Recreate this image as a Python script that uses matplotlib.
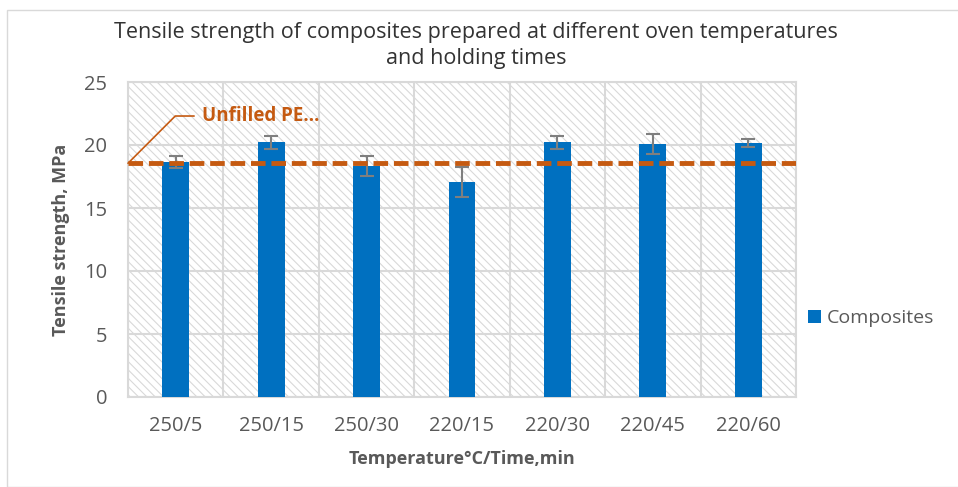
import matplotlib.pyplot as plt
from matplotlib.patches import Rectangle
import numpy as np

plt.rcParams['font.family'] = ['Open Sans', 'DejaVu Sans']
plt.rcParams['hatch.linewidth'] = 0.8

categories = ["250/5", "250/15", "250/30", "220/15", "220/30", "220/45", "220/60"]
strength = [18.65, 20.2, 18.35, 17.05, 20.2, 20.05, 20.15]
errors = [0.5, 0.55, 0.8, 1.2, 0.55, 0.8, 0.3]
unfilled_pe = 18.55

TEXT = "#595959"
BAR = "#0070C0"
ORANGE = "#C55A11"

fig = plt.figure(figsize=(9.58, 4.87), dpi=100)
ax = fig.add_axes([128 / 958, 1 - 397 / 487, 668 / 958, 315 / 487])

# hatched plot-area background
ax.add_patch(Rectangle((0, 0), 1, 1, transform=ax.transAxes, facecolor="white",
                       edgecolor="#d9d9d9", hatch="\\" * 4, linewidth=0, zorder=0))

x = np.arange(len(categories))
ax.bar(x, strength, width=0.28, color=BAR, zorder=3, label="Composites")
ax.errorbar(x, strength, yerr=errors, fmt="none", ecolor="#7f7f7f",
            elinewidth=1.5, capsize=5, capthick=1.5, zorder=4)
ax.axhline(unfilled_pe, color=ORANGE, linestyle=(0, (3, 1.2)), linewidth=3.5, zorder=5)

ax.set_xlim(-0.5, len(categories) - 0.5)
ax.set_ylim(0, 25)
ax.set_yticks(range(0, 26, 5))
ax.set_xticks(x)
ax.set_xticklabels(categories)
for xv in np.arange(-0.5, len(categories), 1.0):
    ax.axvline(xv, color="#d9d9d9", linewidth=1.5, zorder=1)
ax.grid(axis="y", color="#d9d9d9", linewidth=1.5, zorder=1)
ax.set_axisbelow(True)
for s in ax.spines.values():
    s.set_color("#d9d9d9")
    s.set_linewidth(1.5)
ax.tick_params(axis="x", length=0, labelsize=14.5, colors=TEXT, pad=14)
ax.tick_params(axis="y", length=0, labelsize=14.5, colors=TEXT, pad=15)

ax.set_ylabel("Tensile strength, MPa", fontsize=13, fontweight="bold", color=TEXT, labelpad=10)
ax.set_xlabel("Temperature°C/Time,min", fontsize=13, fontweight="bold", color=TEXT, labelpad=10)

# data label with leader line
ax.annotate("Unfilled PE…", xy=(-0.5, unfilled_pe), xytext=(0.28, 22.3),
            color=ORANGE, fontsize=13.5, fontweight="bold", va="center", ha="left",
            arrowprops=dict(arrowstyle="-", color=ORANGE, lw=1.2,
                            connectionstyle="angle,angleA=0,angleB=45,rad=0",
                            shrinkA=4, shrinkB=0))

fig.suptitle("Tensile strength of composites prepared at different oven temperatures\nand holding times",
             x=0.497, y=0.955, fontsize=15.5, color="#333333", linespacing=1.3)

ax.legend(loc="center left", bbox_to_anchor=(1.0, 0.25), frameon=False, fontsize=14,
          labelcolor=TEXT, handlelength=0.7, handleheight=0.7, handletextpad=0.3,
          borderaxespad=0.2)

fig.patches.append(Rectangle((7 / 958, 0), 1.0, 1 - 10 / 487, transform=fig.transFigure,
                             fill=False, edgecolor="#d9d9d9", linewidth=1))

fig.savefig("out.png", dpi=100)
